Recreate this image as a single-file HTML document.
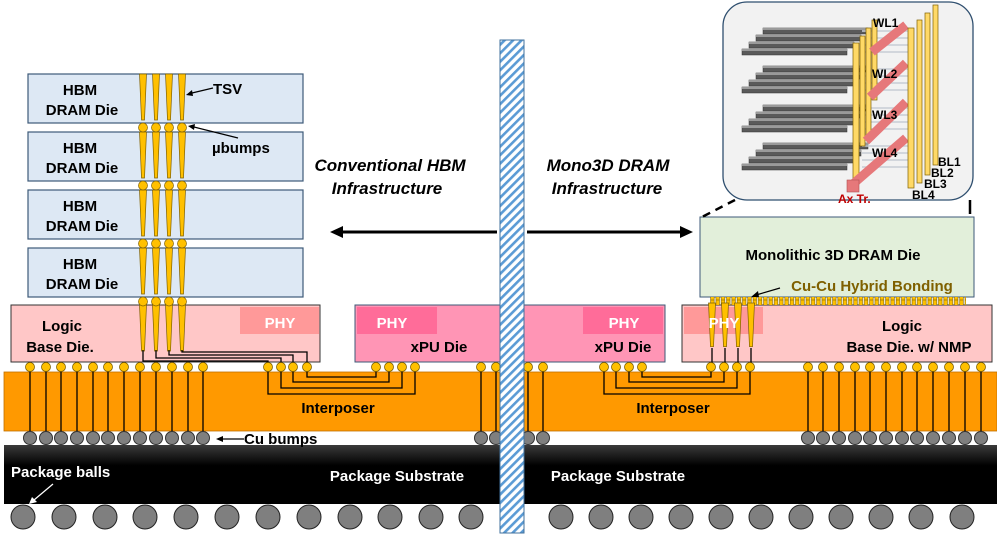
<!DOCTYPE html>
<html><head><meta charset="utf-8"><style>
html,body{margin:0;padding:0;background:#fff}
svg{display:block}
text{font-family:"Liberation Sans",Arial,sans-serif;font-weight:bold}
</style></head><body>
<svg width="997" height="535" viewBox="0 0 997 535" xmlns="http://www.w3.org/2000/svg">
<defs>
<pattern id="hatch" width="6" height="6" patternUnits="userSpaceOnUse" patternTransform="rotate(45)">
<rect width="6" height="6" fill="#fff"/><rect width="2.6" height="6" fill="#5b9bd5"/>
</pattern>
<pattern id="pads" x="710" y="0" width="5.3" height="10" patternUnits="userSpaceOnUse">
<rect x="0.6" y="0" width="3.6" height="10" fill="#ffc000" stroke="#7f6000" stroke-width="0.6"/>
</pattern>
<linearGradient id="sub" x1="0" y1="0" x2="0" y2="1">
<stop offset="0" stop-color="#3a3a3a"/><stop offset="0.35" stop-color="#000"/><stop offset="1" stop-color="#000"/>
</linearGradient>
<g id="tsv4" fill="#ffc000" stroke="#7f6000" stroke-width="0.7">
<polygon points="139.5,0 146.5,0 144.5,46 141.5,46"/>
<polygon points="152.5,0 159.5,0 157.5,46 154.5,46"/>
<polygon points="165.5,0 172.5,0 170.5,46 167.5,46"/>
<polygon points="178.5,0 185.5,0 183.5,46 180.5,46"/>
</g>
<g id="ub4" fill="#ffc000" stroke="#7f6000" stroke-width="0.7">
<circle cx="143" cy="0" r="4.5"/><circle cx="156" cy="0" r="4.5"/><circle cx="169" cy="0" r="4.5"/><circle cx="182" cy="0" r="4.5"/>
</g>
<g id="slabs">
<rect x="763" y="28" width="105" height="6" fill="#5a5a5a" stroke="#333" stroke-width="0.5"/><rect x="763" y="28" width="105" height="2" fill="#9a9a9a"/>
<rect x="756" y="35" width="105" height="6" fill="#5a5a5a" stroke="#333" stroke-width="0.5"/><rect x="756" y="35" width="105" height="2" fill="#9a9a9a"/>
<rect x="749" y="42" width="105" height="6" fill="#5a5a5a" stroke="#333" stroke-width="0.5"/><rect x="749" y="42" width="105" height="2" fill="#9a9a9a"/>
<rect x="742" y="49" width="105" height="6" fill="#5a5a5a" stroke="#333" stroke-width="0.5"/><rect x="742" y="49" width="105" height="2" fill="#9a9a9a"/>
</g>
</defs>

<rect x="4" y="372" width="993" height="59" fill="#ff9900" stroke="#c07000" stroke-width="0.8"/>
<rect x="4" y="445" width="993" height="59" fill="url(#sub)"/>

<g fill="#dde8f4" stroke="#3e5a78" stroke-width="1.2">
<rect x="28" y="74" width="275" height="49"/>
<rect x="28" y="132" width="275" height="49"/>
<rect x="28" y="190" width="275" height="49"/>
<rect x="28" y="248" width="275" height="49"/>
</g>
<g font-size="15" text-anchor="middle" fill="#000">
<text x="80" y="95">HBM</text><text x="82" y="115">DRAM Die</text>
<text x="80" y="153">HBM</text><text x="82" y="173">DRAM Die</text>
<text x="80" y="211">HBM</text><text x="82" y="231">DRAM Die</text>
<text x="80" y="269">HBM</text><text x="82" y="289">DRAM Die</text>
</g>

<rect x="11" y="305" width="309" height="57" fill="#ffc7c7" stroke="#333" stroke-width="1"/>
<rect x="240" y="307" width="79" height="27" fill="#ff9999"/>
<text x="280" y="328" font-size="15" fill="#fff" text-anchor="middle">PHY</text>
<text x="62" y="331" font-size="15" text-anchor="middle">Logic</text>
<text x="60" y="352" font-size="15" text-anchor="middle">Base Die.</text>

<rect x="355" y="305" width="310" height="57" fill="#ff95b5" stroke="#3e5a78" stroke-width="1"/>
<rect x="357" y="307" width="80" height="27" fill="#ff6c99"/>
<rect x="583" y="307" width="80" height="27" fill="#ff6c99"/>
<text x="392" y="328" font-size="15" fill="#fff" text-anchor="middle">PHY</text>
<text x="624" y="328" font-size="15" fill="#fff" text-anchor="middle">PHY</text>
<text x="439" y="352" font-size="15" text-anchor="middle">xPU Die</text>
<text x="623" y="352" font-size="15" text-anchor="middle">xPU Die</text>

<rect x="682" y="305" width="310" height="57" fill="#ffc7c7" stroke="#333" stroke-width="1"/>
<rect x="684" y="307" width="79" height="27" fill="#ff9999"/>
<text x="902" y="331" font-size="15" text-anchor="middle">Logic</text>
<text x="909" y="352" font-size="15" text-anchor="middle">Base Die. w/ NMP</text>

<rect x="700" y="217" width="274" height="80" fill="#e2efda" stroke="#3e5a78" stroke-width="1"/>
<text x="833" y="260" font-size="15" text-anchor="middle">Monolithic 3D DRAM Die</text>
<text x="872" y="291" font-size="15" text-anchor="middle" fill="#7f6000">Cu-Cu Hybrid Bonding</text>
<rect x="710" y="297" width="256" height="8" fill="url(#pads)"/>
<line x1="780" y1="288" x2="756" y2="295" stroke="#000" stroke-width="1.2"/>
<polygon points="751,297 758,291 759,297" fill="#000"/>

<use href="#tsv4" transform="translate(0,74)"/>
<use href="#tsv4" transform="translate(0,132)"/>
<use href="#tsv4" transform="translate(0,190)"/>
<use href="#tsv4" transform="translate(0,248)"/>
<use href="#tsv4" transform="translate(0,305)"/>
<use href="#ub4" transform="translate(0,127.5)"/>
<use href="#ub4" transform="translate(0,185.5)"/>
<use href="#ub4" transform="translate(0,243.5)"/>
<use href="#ub4" transform="translate(0,301.5)"/>

<use href="#tsv4" transform="translate(569,303) scale(1,0.95)"/>
<text x="724" y="328" font-size="15" fill="#fff" text-anchor="middle">PHY</text>

<g fill="none" stroke="#000" stroke-width="1.3">
<polyline points="143,350 143,361 268,361 268,367"/>
<polyline points="156,350 156,358 281,358 281,367"/>
<polyline points="169,350 169,355 293,355 293,367"/>
<polyline points="182,350 182,352 307,352 307,367"/>
<polyline points="268,367 268,394 415,394 415,367"/>
<polyline points="281,367 281,388 402,388 402,367"/>
<polyline points="293,367 293,382 389,382 389,367"/>
<polyline points="307,367 307,377 376,377 376,367"/>
<polyline points="604,367 604,394 750,394 750,367"/>
<polyline points="616,367 616,388 737,388 737,367"/>
<polyline points="629,367 629,382 724,382 724,367"/>
<polyline points="642,367 642,377 711,377 711,367"/>
<line x1="712" y1="348" x2="712" y2="367"/><line x1="725" y1="348" x2="725" y2="367"/>
<line x1="738" y1="348" x2="738" y2="367"/><line x1="751" y1="348" x2="751" y2="367"/>
<path d="M30 367V438M46 367V438M61 367V438M77 367V438M93 367V438M108 367V438M124 367V438M140 367V438M156 367V438M172 367V438M188 367V438M203 367V438M481 367V438M496 367V438M528 367V438M543 367V438M808 367V438M823 367V438M839 367V438M855 367V438M870 367V438M886 367V438M902 367V438M917 367V438M933 367V438M949 367V438M965 367V438M981 367V438"/>
</g>

<g fill="#ffc000" stroke="#7f6000" stroke-width="0.8">
<circle cx="30" cy="367" r="4.5"/><circle cx="46" cy="367" r="4.5"/><circle cx="61" cy="367" r="4.5"/><circle cx="77" cy="367" r="4.5"/><circle cx="93" cy="367" r="4.5"/><circle cx="108" cy="367" r="4.5"/><circle cx="124" cy="367" r="4.5"/><circle cx="140" cy="367" r="4.5"/><circle cx="156" cy="367" r="4.5"/><circle cx="172" cy="367" r="4.5"/><circle cx="188" cy="367" r="4.5"/><circle cx="203" cy="367" r="4.5"/>
<circle cx="268" cy="367" r="4.5"/><circle cx="281" cy="367" r="4.5"/><circle cx="293" cy="367" r="4.5"/><circle cx="307" cy="367" r="4.5"/>
<circle cx="376" cy="367" r="4.5"/><circle cx="389" cy="367" r="4.5"/><circle cx="402" cy="367" r="4.5"/><circle cx="415" cy="367" r="4.5"/>
<circle cx="481" cy="367" r="4.5"/><circle cx="496" cy="367" r="4.5"/><circle cx="528" cy="367" r="4.5"/><circle cx="543" cy="367" r="4.5"/>
<circle cx="604" cy="367" r="4.5"/><circle cx="616" cy="367" r="4.5"/><circle cx="629" cy="367" r="4.5"/><circle cx="642" cy="367" r="4.5"/>
<circle cx="711" cy="367" r="4.5"/><circle cx="724" cy="367" r="4.5"/><circle cx="737" cy="367" r="4.5"/><circle cx="750" cy="367" r="4.5"/>
<circle cx="808" cy="367" r="4.5"/><circle cx="823" cy="367" r="4.5"/><circle cx="839" cy="367" r="4.5"/><circle cx="855" cy="367" r="4.5"/><circle cx="870" cy="367" r="4.5"/><circle cx="886" cy="367" r="4.5"/><circle cx="902" cy="367" r="4.5"/><circle cx="917" cy="367" r="4.5"/><circle cx="933" cy="367" r="4.5"/><circle cx="949" cy="367" r="4.5"/><circle cx="965" cy="367" r="4.5"/><circle cx="981" cy="367" r="4.5"/>
</g>

<g fill="#7f7f7f" stroke="#333" stroke-width="1">
<circle cx="30" cy="438" r="6.5"/><circle cx="46" cy="438" r="6.5"/><circle cx="61" cy="438" r="6.5"/><circle cx="77" cy="438" r="6.5"/><circle cx="93" cy="438" r="6.5"/><circle cx="108" cy="438" r="6.5"/><circle cx="124" cy="438" r="6.5"/><circle cx="140" cy="438" r="6.5"/><circle cx="156" cy="438" r="6.5"/><circle cx="172" cy="438" r="6.5"/><circle cx="188" cy="438" r="6.5"/><circle cx="203" cy="438" r="6.5"/>
<circle cx="481" cy="438" r="6.5"/><circle cx="496" cy="438" r="6.5"/><circle cx="528" cy="438" r="6.5"/><circle cx="543" cy="438" r="6.5"/>
<circle cx="808" cy="438" r="6.5"/><circle cx="823" cy="438" r="6.5"/><circle cx="839" cy="438" r="6.5"/><circle cx="855" cy="438" r="6.5"/><circle cx="870" cy="438" r="6.5"/><circle cx="886" cy="438" r="6.5"/><circle cx="902" cy="438" r="6.5"/><circle cx="917" cy="438" r="6.5"/><circle cx="933" cy="438" r="6.5"/><circle cx="949" cy="438" r="6.5"/><circle cx="965" cy="438" r="6.5"/><circle cx="981" cy="438" r="6.5"/>
</g>

<g fill="#7f7f7f" stroke="#222" stroke-width="1">
<circle cx="23" cy="517" r="12"/><circle cx="64" cy="517" r="12"/><circle cx="105" cy="517" r="12"/><circle cx="145" cy="517" r="12"/><circle cx="186" cy="517" r="12"/><circle cx="227" cy="517" r="12"/><circle cx="268" cy="517" r="12"/><circle cx="309" cy="517" r="12"/><circle cx="350" cy="517" r="12"/><circle cx="390" cy="517" r="12"/><circle cx="431" cy="517" r="12"/><circle cx="471" cy="517" r="12"/>
<circle cx="561" cy="517" r="12"/><circle cx="601" cy="517" r="12"/><circle cx="641" cy="517" r="12"/><circle cx="681" cy="517" r="12"/><circle cx="721" cy="517" r="12"/><circle cx="761" cy="517" r="12"/><circle cx="801" cy="517" r="12"/><circle cx="841" cy="517" r="12"/><circle cx="881" cy="517" r="12"/><circle cx="921" cy="517" r="12"/><circle cx="962" cy="517" r="12"/>
</g>

<g font-size="15" fill="#000">
<text x="338" y="413" text-anchor="middle">Interposer</text>
<text x="673" y="413" text-anchor="middle">Interposer</text>
<text x="244" y="444">Cu bumps</text>
<text x="213" y="94">TSV</text>
<text x="212" y="153">µbumps</text>
</g>
<g stroke="#000" stroke-width="1.2" fill="none">
<line x1="244" y1="439" x2="222" y2="439"/>
<line x1="213" y1="88" x2="192" y2="93"/>
<line x1="238" y1="138" x2="194" y2="127"/>
</g>
<g fill="#000">
<polygon points="216,439 223,436 223,442"/>
<polygon points="186,95 192,90 193,96"/>
<polygon points="188,126 195,124 194,130"/>
</g>
<g font-size="15" fill="#fff">
<text x="11" y="477">Package balls</text>
<text x="397" y="481" text-anchor="middle">Package Substrate</text>
<text x="618" y="481" text-anchor="middle">Package Substrate</text>
</g>
<line x1="53" y1="484" x2="34" y2="500" stroke="#fff" stroke-width="1.3"/>
<polygon points="29,504 32,497 37,502" fill="#fff"/>

<g font-size="17" font-style="italic" text-anchor="middle">
<text x="390" y="171">Conventional HBM</text>
<text x="387" y="194">Infrastructure</text>
<text x="608" y="171">Mono3D DRAM</text>
<text x="607" y="194">Infrastructure</text>
</g>
<line x1="341" y1="232" x2="497" y2="232" stroke="#000" stroke-width="3"/>
<polygon points="330,232 343,226 343,238" fill="#000"/>
<line x1="527" y1="232" x2="682" y2="232" stroke="#000" stroke-width="3"/>
<polygon points="693,232 680,226 680,238" fill="#000"/>

<rect x="500" y="40" width="24" height="493" fill="url(#hatch)" stroke="#41719c" stroke-width="1"/>

<rect x="723" y="2" width="250" height="198" rx="24" fill="#f2f2f2" stroke="#2f4f6f" stroke-width="1.3"/>
<line x1="735" y1="200" x2="700" y2="218" stroke="#000" stroke-width="2.5" stroke-dasharray="8,6"/>
<line x1="970" y1="200" x2="970" y2="214" stroke="#000" stroke-width="2.5"/>
<use href="#slabs"/>
<use href="#slabs" transform="translate(0,38)"/>
<use href="#slabs" transform="translate(0,77)"/>
<use href="#slabs" transform="translate(0,115)"/>
<g stroke="#c8cdd4" stroke-width="1.5">
<path d="M862 31H910M862 38H910M862 45H910M862 52H910M862 69H910M862 76H910M862 83H910M862 90H910M862 108H910M862 115H910M862 122H910M862 129H910M862 146H910M862 153H910M862 160H910M862 167H910"/>
</g>
<g fill="#ffd966" stroke="#7f6000" stroke-width="0.7">
<rect x="872" y="20" width="5" height="80"/><rect x="866" y="28" width="5" height="112"/><rect x="860" y="36" width="5" height="110"/><rect x="853" y="43" width="6" height="137"/>
</g>
<g stroke="#e6787a" stroke-width="9" stroke-linecap="butt">
<line x1="872" y1="52" x2="906" y2="25"/>
<line x1="870" y1="97" x2="906" y2="63"/>
<line x1="866" y1="141" x2="906" y2="102"/>
<line x1="853" y1="184" x2="906" y2="138"/>
</g>
<rect x="847" y="180" width="12" height="12" fill="#e6787a" stroke="#b05050" stroke-width="0.6"/>
<g fill="#ffd966" stroke="#7f6000" stroke-width="0.7">
<rect x="933" y="5" width="5" height="160"/><rect x="925" y="13" width="5" height="162"/><rect x="917" y="20" width="5" height="163"/><rect x="908" y="28" width="6" height="160"/>
</g>
<g font-size="12" fill="#000">
<text x="873" y="27">WL1</text><text x="872" y="78">WL2</text><text x="872" y="119">WL3</text><text x="872" y="157">WL4</text>
<text x="938" y="166">BL1</text><text x="931" y="177">BL2</text><text x="924" y="188">BL3</text><text x="912" y="199">BL4</text>
</g>
<text x="838" y="203" font-size="12" fill="#c00000">Ax Tr.</text>
</svg>
</body></html>
